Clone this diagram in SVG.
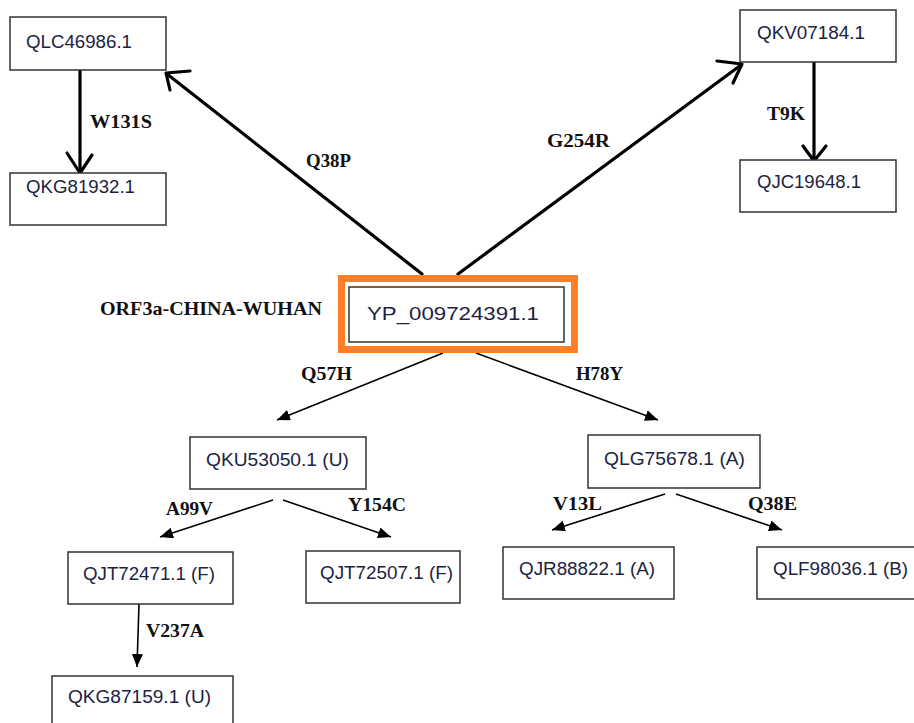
<svg xmlns="http://www.w3.org/2000/svg" width="914" height="723" viewBox="0 0 914 723">
  <defs>
    <marker id="tri" markerUnits="userSpaceOnUse" markerWidth="14" markerHeight="12" refX="13" refY="5.5" orient="auto">
      <path d="M0,0 L13,5.5 L0,11 z" fill="#000"/>
    </marker>
    <style>
      .box { fill: #fff; stroke: #333; stroke-width: 1.5; }
      .id { font-family: "Liberation Sans", Arial, sans-serif; font-size: 18px; fill: #1c2340; }
      .mut { font-family: "Liberation Serif", "Times New Roman", serif; font-size: 19px; font-weight: bold; fill: #111; }
      .thick { fill: none; stroke: #000; stroke-width: 3.2; stroke-linecap: round; stroke-linejoin: round; }
      .thin { fill: none; stroke: #000; stroke-width: 1.6; marker-end: url(#tri); }
    </style>
  </defs>
  <rect width="914" height="723" fill="#fff"/>

  <!-- connectors -->
  <g id="connectors">
    <!-- hand-drawn style arrows with open heads -->
    <path class="thick" d="M80,68 L80,172"/>
    <path class="thick" d="M67,153 L80,173 L92,155"/>
    <path class="thick" d="M814,62 L814,160"/>
    <path class="thick" d="M803,146 L814,161 L826,146"/>
    <path class="thick" d="M422,274 L167,74"/>
    <path class="thick" d="M190,71 L166,73 L170,90"/>
    <path class="thick" d="M458,274 L741,65"/>
    <path class="thick" d="M717,61 L742,64 L733,83"/>
    <!-- straight arrows with filled heads -->
    <line class="thin" x1="443" y1="353" x2="277" y2="420"/>
    <line class="thin" x1="476" y1="353" x2="658" y2="420"/>
    <line class="thin" x1="273" y1="500" x2="160" y2="537"/>
    <line class="thin" x1="283" y1="500" x2="391" y2="537"/>
    <line class="thin" x1="665" y1="494" x2="552" y2="530"/>
    <line class="thin" x1="676" y1="494" x2="782" y2="530"/>
    <line class="thin" x1="139" y1="604" x2="137" y2="667"/>
  </g>

  <!-- mutation labels -->
  <g id="labels">
    <text class="mut" x="90" y="128" textLength="62" lengthAdjust="spacingAndGlyphs">W131S</text>
    <text class="mut" x="306" y="167" textLength="45" lengthAdjust="spacingAndGlyphs">Q38P</text>
    <text class="mut" x="547" y="147" textLength="63" lengthAdjust="spacingAndGlyphs">G254R</text>
    <text class="mut" x="767" y="120" textLength="38" lengthAdjust="spacingAndGlyphs">T9K</text>
    <text class="mut" x="100" y="315" textLength="222" lengthAdjust="spacingAndGlyphs">ORF3a-CHINA-WUHAN</text>
    <text class="mut" x="301" y="380" textLength="51" lengthAdjust="spacingAndGlyphs">Q57H</text>
    <text class="mut" x="576" y="380" textLength="47" lengthAdjust="spacingAndGlyphs">H78Y</text>
    <text class="mut" x="166" y="515" textLength="47" lengthAdjust="spacingAndGlyphs">A99V</text>
    <text class="mut" x="348" y="511" textLength="58" lengthAdjust="spacingAndGlyphs">Y154C</text>
    <text class="mut" x="146" y="637" textLength="58" lengthAdjust="spacingAndGlyphs">V237A</text>
    <text class="mut" x="553" y="510" textLength="49" lengthAdjust="spacingAndGlyphs">V13L</text>
    <text class="mut" x="748" y="510" textLength="49" lengthAdjust="spacingAndGlyphs">Q38E</text>
  </g>

  <!-- nodes -->
  <g id="node-root">
    <rect x="341.5" y="278.5" width="233" height="71" fill="#fff" stroke="#ff7f27" stroke-width="7"/>
    <rect class="box" x="349" y="287" width="215" height="55"/>
    <text class="id" x="367" y="320" font-size="22" textLength="172" lengthAdjust="spacingAndGlyphs">YP_009724391.1</text>
  </g>
  <g id="node-QLC46986">
    <rect class="box" x="10" y="17" width="156" height="53"/>
    <text class="id" x="26" y="48" textLength="106" lengthAdjust="spacingAndGlyphs">QLC46986.1</text>
  </g>
  <g id="node-QKG81932">
    <rect class="box" x="10" y="173" width="156" height="52"/>
    <text class="id" x="26" y="193" textLength="109" lengthAdjust="spacingAndGlyphs">QKG81932.1</text>
  </g>
  <g id="node-QKV07184">
    <rect class="box" x="740" y="10" width="156" height="52"/>
    <text class="id" x="757" y="39" textLength="108" lengthAdjust="spacingAndGlyphs">QKV07184.1</text>
  </g>
  <g id="node-QJC19648">
    <rect class="box" x="740" y="160" width="156" height="52"/>
    <text class="id" x="757" y="188" textLength="104" lengthAdjust="spacingAndGlyphs">QJC19648.1</text>
  </g>
  <g id="node-QKU53050">
    <rect class="box" x="190" y="437" width="176" height="52"/>
    <text class="id" x="206" y="466" textLength="143" lengthAdjust="spacingAndGlyphs">QKU53050.1 (U)</text>
  </g>
  <g id="node-QLG75678">
    <rect class="box" x="588" y="435" width="172" height="53"/>
    <text class="id" x="604" y="465" textLength="141" lengthAdjust="spacingAndGlyphs">QLG75678.1 (A)</text>
  </g>
  <g id="node-QJT72471">
    <rect class="box" x="68" y="552" width="165" height="52"/>
    <text class="id" x="83" y="580" textLength="132" lengthAdjust="spacingAndGlyphs">QJT72471.1 (F)</text>
  </g>
  <g id="node-QJT72507">
    <rect class="box" x="306" y="551" width="154" height="52"/>
    <text class="id" x="320" y="579" textLength="133" lengthAdjust="spacingAndGlyphs">QJT72507.1 (F)</text>
  </g>
  <g id="node-QJR88822">
    <rect class="box" x="503" y="547" width="171" height="52"/>
    <text class="id" x="519" y="575" textLength="136" lengthAdjust="spacingAndGlyphs">QJR88822.1 (A)</text>
  </g>
  <g id="node-QLF98036">
    <rect class="box" x="757" y="547" width="170" height="52"/>
    <text class="id" x="773" y="575" textLength="135" lengthAdjust="spacingAndGlyphs">QLF98036.1 (B)</text>
  </g>
  <g id="node-QKG87159">
    <rect class="box" x="52" y="676" width="181" height="60"/>
    <text class="id" x="68" y="703" textLength="143" lengthAdjust="spacingAndGlyphs">QKG87159.1 (U)</text>
  </g>
</svg>
